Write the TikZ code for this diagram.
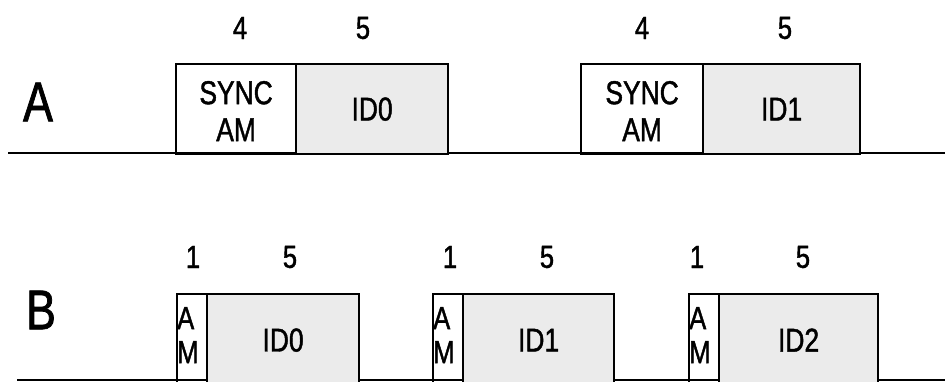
\documentclass[tikz,border=0pt]{standalone}
\usepackage{fontspec}
\setmainfont{Liberation Sans}[FakeStretch=0.8,FakeBold=1.3]
\begin{document}
\begin{tikzpicture}[x=1pt,y=-1pt,
  bx/.style={draw=black,line width=2.2pt,inner sep=0pt,anchor=north west},
  idbox/.style={bx,fill=black!8},
  lbl/.style={font=\fontsize{32}{32}\selectfont,inner sep=0pt},
  big/.style={font=\fontsize{56}{56}\selectfont,inner sep=0pt},
  txt/.style={font=\fontsize{33}{37}\selectfont,inner sep=0pt,align=center},
  am/.style={font=\fontsize{32}{34}\selectfont,inner sep=0pt,align=left},
  base/.style={line width=2.4pt}]
\useasboundingbox (0,0) rectangle (945,381);
% Row A
\node[big] (A) at (38,102) {A};
\coordinate (la) at (8,153);
\coordinate (ra) at (945,153);
\draw[base] (la) -- (ra);
\node[bx,minimum width=120pt,minimum height=90pt] (s0) at (175,63) {};
\node[idbox,minimum width=152pt,minimum height=90pt] (i0) at (295,63) {};
\node[txt] at ([yshift=-2pt]s0.center) {SYNC\\AM};
\node[txt] at (i0.center) {ID0};
\node[bx,minimum width=122pt,minimum height=90pt] (s1) at (580,63) {};
\node[idbox,minimum width=157pt,minimum height=90pt] (i1) at (702,63) {};
\node[txt] at ([yshift=-2pt]s1.center) {SYNC\\AM};
\node[txt] at (i1.center) {ID1};
\node[lbl] (n4a) at (240,28) {4};
\node[lbl] (n5a) at (363,28) {5};
\node[lbl] (n4b) at (642,28) {4};
\node[lbl] (n5b) at (785,28) {5};
% Row B
\node[big] (B) at (41,310) {B};
\coordinate (lb) at (17,380);
\coordinate (rb) at (945,380);
\draw[base] (lb) -- (rb);
\foreach \x/\w/\t/\k in {176/182/ID0/0, 432/181/ID1/1, 688/189/ID2/2}{
  \node[bx,minimum width=30pt,minimum height=100pt] (am\k) at (\x,293) {};
  \node[idbox,minimum width={\w-30},minimum height=100pt] (id\k) at (\x+30,293) {};
  \node[txt] at ([yshift=4pt]id\k.center) {\t};
  \node[am,anchor=north west] at ([xshift=1pt,yshift=-14pt]am\k.north west) {A\\M};
}
\node[lbl] (one0) at (193,257) {1};
\node[lbl] (five0) at (290,257) {5};
\node[lbl] (one1) at (450,257) {1};
\node[lbl] (five1) at (547,257) {5};
\node[lbl] (one2) at (697,257) {1};
\node[lbl] (five2) at (803,257) {5};
\end{tikzpicture}
\end{document}
